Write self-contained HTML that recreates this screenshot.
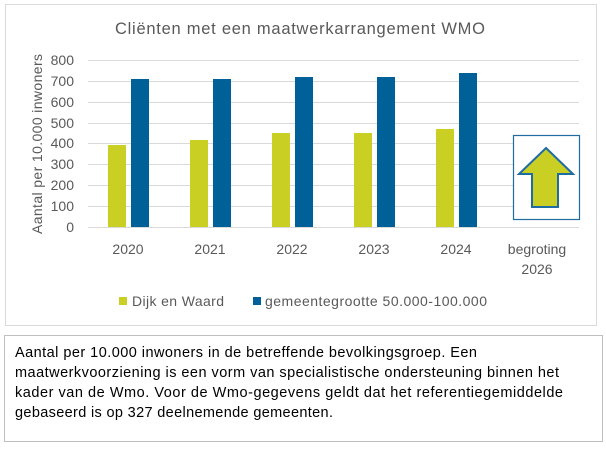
<!DOCTYPE html>
<html><head><meta charset="utf-8"><style>
body{margin:0;background:#fff;}
svg{display:block;font-family:"Liberation Sans",sans-serif;}
</style></head><body>
<svg width="606" height="451" viewBox="0 0 606 451">
<rect x="5.5" y="4.5" width="591" height="321" fill="#fff" stroke="#d9d9d9"/>
<text x="300" y="34" font-size="16.5" fill="#595959" text-anchor="middle" textLength="370">Cliënten met een maatwerkarrangement WMO</text>
<g stroke="#d9d9d9" stroke-width="1">
<line x1="88" x2="579" y1="60.5" y2="60.5"/><line x1="88" x2="579" y1="81.5" y2="81.5"/>
<line x1="88" x2="579" y1="102.5" y2="102.5"/><line x1="88" x2="579" y1="123.5" y2="123.5"/>
<line x1="88" x2="579" y1="143.5" y2="143.5"/><line x1="88" x2="579" y1="164.5" y2="164.5"/>
<line x1="88" x2="579" y1="185.5" y2="185.5"/><line x1="88" x2="579" y1="206.5" y2="206.5"/>
<line x1="88" x2="579" y1="227.5" y2="227.5"/>
</g>
<g font-size="14" fill="#595959" text-anchor="end">
<text x="74" y="65">800</text><text x="74" y="86">700</text><text x="74" y="107">600</text>
<text x="74" y="128">500</text><text x="74" y="148">400</text><text x="74" y="169">300</text>
<text x="74" y="190">200</text><text x="74" y="211">100</text><text x="74" y="232">0</text>
</g>
<text transform="translate(42,144) rotate(-90)" font-size="14" fill="#595959" text-anchor="middle" textLength="180">Aantal per 10.000 inwoners</text>
<g fill="#c9cf23">
<rect x="108" y="145" width="18" height="82"/>
<rect x="190" y="140" width="18" height="87"/>
<rect x="272" y="133" width="18" height="94"/>
<rect x="354" y="133" width="18" height="94"/>
<rect x="436" y="129" width="18" height="98"/>
</g>
<g fill="#006098">
<rect x="131" y="79" width="18" height="148"/>
<rect x="213" y="79" width="18" height="148"/>
<rect x="295" y="77" width="18" height="150"/>
<rect x="377" y="77" width="18" height="150"/>
<rect x="459" y="73" width="18" height="154"/>
</g>
<rect x="513.5" y="135.5" width="66" height="84" fill="#fff" stroke="#1f6ca3" stroke-width="1.2"/>
<polygon points="546,148 573,174 558,174 558,207 532,207 532,174 519,174" fill="#c9cf23" stroke="#1f6ca3" stroke-width="2"/>
<g font-size="14" fill="#595959" text-anchor="middle">
<text x="128" y="254">2020</text><text x="210" y="254">2021</text><text x="292" y="254">2022</text>
<text x="374" y="254">2023</text><text x="456" y="254">2024</text>
<text x="537" y="254">begroting</text><text x="537" y="274">2026</text>
</g>
<rect x="119" y="297" width="8" height="8" fill="#c9cf23"/>
<text x="132" y="306" font-size="14" fill="#595959" textLength="92">Dijk en Waard</text>
<rect x="253" y="297" width="8" height="8" fill="#006098"/>
<text x="265" y="306" font-size="14" fill="#595959" textLength="222">gemeentegrootte 50.000-100.000</text>
<rect x="4.5" y="335.5" width="598" height="106" fill="#fff" stroke="#bfbfbf"/>
<g font-size="14.5" fill="#000">
<text x="15" y="357" textLength="462">Aantal per 10.000 inwoners in de betreffende bevolkingsgroep. Een</text>
<text x="15" y="377" textLength="544">maatwerkvoorziening is een vorm van specialistische ondersteuning binnen het</text>
<text x="15" y="397" textLength="548">kader van de Wmo. Voor de Wmo-gegevens geldt dat het referentiegemiddelde</text>
<text x="15" y="417" textLength="318">gebaseerd is op 327 deelnemende gemeenten.</text>
</g>
</svg>
</body></html>
